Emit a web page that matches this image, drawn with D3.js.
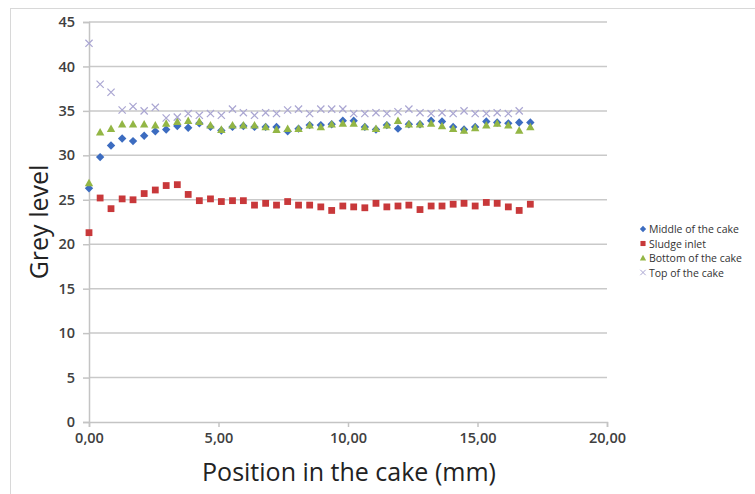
<!DOCTYPE html>
<html>
<head>
<meta charset="utf-8">
<script src="https://cdn.jsdelivr.net/npm/d3@7"></script>
<style>
  body { margin: 0; background: #fff; }
  svg { display: block; font-family: "Open Sans", sans-serif; }
</style>
</head>
<body>
<svg id="graph"></svg>
<script>
// Positions along the cake (mm)
var positions = [0, 0.43, 0.85, 1.28, 1.70, 2.13, 2.56, 2.98, 3.41, 3.83, 4.26, 4.69, 5.11, 5.54,
  5.96, 6.39, 6.82, 7.24, 7.67, 8.09, 8.52, 8.95, 9.37, 9.80, 10.22, 10.65, 11.08, 11.50, 11.93,
  12.35, 12.78, 13.21, 13.63, 14.06, 14.48, 14.91, 15.34, 15.76, 16.19, 16.61, 17.04];

var middle = [26.3, 29.8, 31.1, 31.9, 31.6, 32.2, 32.7, 32.9, 33.3, 33.1, 33.6, 33.2, 32.8, 33.2,
  33.3, 33.2, 33.2, 33.2, 32.7, 33.0, 33.4, 33.4, 33.5, 33.9, 33.9, 33.2, 32.9, 33.4, 33.0,
  33.5, 33.5, 33.9, 33.8, 33.2, 32.9, 33.2, 33.8, 33.7, 33.6, 33.7, 33.7];

var sludge = [21.3, 25.2, 24.0, 25.1, 25.0, 25.7, 26.1, 26.6, 26.7, 25.6, 24.9, 25.1, 24.8, 24.9,
  24.9, 24.4, 24.6, 24.4, 24.8, 24.4, 24.4, 24.2, 23.8, 24.3, 24.2, 24.1, 24.6, 24.2, 24.3,
  24.4, 23.9, 24.3, 24.3, 24.5, 24.6, 24.3, 24.7, 24.6, 24.2, 23.8, 24.5];

var bottom = [26.9, 32.6, 33.0, 33.5, 33.5, 33.5, 33.4, 33.6, 33.8, 33.9, 33.8, 33.4, 32.9, 33.4,
  33.4, 33.4, 33.2, 32.9, 33.0, 33.0, 33.4, 33.2, 33.5, 33.6, 33.6, 33.2, 33.0, 33.4, 33.9,
  33.5, 33.5, 33.6, 33.3, 33.0, 32.8, 33.1, 33.4, 33.6, 33.4, 32.8, 33.2];

// this one stops one point earlier
var top_ = [42.6, 38.0, 37.1, 35.1, 35.5, 35.0, 35.4, 34.2, 34.3, 34.7, 34.5, 34.7, 34.5, 35.2,
  34.8, 34.5, 34.8, 34.7, 35.1, 35.2, 34.7, 35.2, 35.2, 35.2, 34.7, 34.7, 34.8, 34.7, 34.9,
  35.2, 34.8, 34.7, 34.8, 34.7, 35.0, 34.7, 34.7, 34.8, 34.7, 35.0];

var xTicks = [0, 5, 10, 15, 20];
var yTicks = [0, 5, 10, 15, 20, 25, 30, 35, 40, 45];

// marker shapes, r = half size in px
var shapes = {
  diamond: function(r) { return "M0," + (-r) + "L" + r + ",0L0," + r + "L" + (-r) + ",0Z"; },
  square: function(r) { return "M" + (-r) + "," + (-r) + "h" + 2 * r + "v" + 2 * r + "h" + (-2 * r) + "Z"; },
  triangle: function(r) { return "M0," + (-r) + "L" + r + "," + (r * 0.8) + "L" + (-r) + "," + (r * 0.8) + "Z"; },
  cross: function(r) { return "M" + (-r) + "," + (-r) + "L" + r + "," + r + "M" + (-r) + "," + r + "L" + r + "," + (-r); }
};

var series = [
  {name: "Middle of the cake", values: middle, shape: "diamond", r: 4.2, color: "#3c6cc0"},
  {name: "Sludge inlet", values: sludge, shape: "square", r: 3.4, color: "#c8383a"},
  {name: "Bottom of the cake", values: bottom, shape: "triangle", r: 4.2, color: "#93b645"},
  {name: "Top of the cake", values: top_, shape: "cross", r: 3.6, color: "#aaa6d2"}
];

var svg = d3.select("#graph")
    .attr("width", 755)
    .attr("height", 494);

// faint frame around the chart
svg.append("rect")
    .attr("x", 10.5).attr("y", 8.5)
    .attr("width", 800).attr("height", 500)
    .attr("fill", "none").attr("stroke", "#d8d8d8");

var margin = {top: 22, left: 89},
    width = 518,
    height = 400;

var x = d3.scaleLinear().domain([0, 20]).range([0, width]),
    y = d3.scaleLinear().domain([0, 45]).range([height, 0]);

var g = svg.append("g")
    .attr("transform", "translate(" + margin.left + "," + margin.top + ")");

// horizontal gridlines
g.selectAll(".grid")
  .data(yTicks.slice(1))
  .enter().append("line")
    .attr("x1", 0).attr("x2", width)
    .attr("y1", function(d) { return y(d); })
    .attr("y2", function(d) { return y(d); })
    .attr("stroke", "#c9c9c9")
    .attr("stroke-width", 1.5);

var fmt = function(d) { return d3.format(".2f")(d).replace(".", ","); };

var xAxis = g.append("g")
    .attr("transform", "translate(0," + height + ")")
    .call(d3.axisBottom(x).tickValues(xTicks).tickFormat(fmt).tickSize(5).tickPadding(6));

var yAxis = g.append("g")
    .call(d3.axisLeft(y).tickValues(yTicks).tickSize(6).tickPadding(8));

[xAxis, yAxis].forEach(function(a) {
  a.select(".domain").attr("stroke", "#c4c4c4").attr("stroke-width", 1.5);
  a.selectAll(".tick line").attr("stroke", "#c4c4c4").attr("stroke-width", 1.5);
  a.selectAll(".tick text")
      .attr("fill", "#404040")
      .style("font-size", "14.5px")
      .style("font-weight", "600")
      .style("font-family", "Open Sans, sans-serif");
});

// the markers
series.forEach(function(s) {
  var pts = s.values.map(function(v, i) { return [positions[i], v]; });
  var sel = g.append("g").selectAll("path")
    .data(pts)
    .enter().append("path")
      .attr("transform", function(d) { return "translate(" + x(d[0]) + "," + y(d[1]) + ")"; })
      .attr("d", shapes[s.shape](s.r));
  if (s.shape == "cross") {
    sel.attr("fill", "none").attr("stroke", s.color).attr("stroke-width", 1.2);
  } else {
    sel.attr("fill", s.color);
  }
});

// axis titles
svg.append("text")
    .attr("x", 349).attr("y", 481)
    .attr("text-anchor", "middle")
    .attr("fill", "#222")
    .style("font-size", "25px")
    .text("Position in the cake (mm)");

svg.append("text")
    .attr("transform", "translate(48,222) rotate(-90)")
    .attr("text-anchor", "middle")
    .attr("fill", "#222")
    .style("font-size", "25px")
    .text("Grey level");

// legend
var legend = svg.append("g")
    .attr("transform", "translate(643,229)");

var item = legend.selectAll("g")
  .data(series)
  .enter().append("g")
    .attr("transform", function(d, i) { return "translate(0," + i * 14.5 + ")"; });

item.append("path")
    .attr("d", function(d) { return shapes[d.shape](d.r * 0.75); })
    .attr("fill", function(d) { return d.shape == "cross" ? "none" : d.color; })
    .attr("stroke", function(d) { return d.shape == "cross" ? d.color : "none"; });

item.append("text")
    .attr("x", 6).attr("y", 4)
    .attr("fill", "#333")
    .style("font-size", "10.5px")
    .text(function(d) { return d.name; });
</script>
</body>
</html>
